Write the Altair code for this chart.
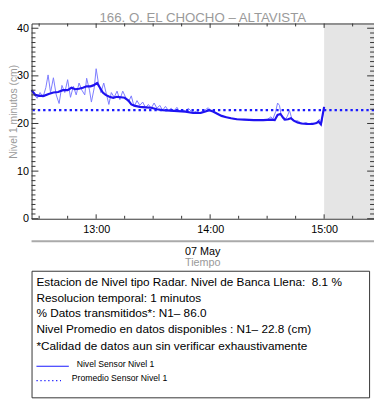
import altair as alt
import pandas as pd

FONT = "Liberation Sans"

TITLE = "166. Q. EL CHOCHO – ALTAVISTA"
Y_TITLE = "Nivel 1 minutos (cm)"
DATE_LABEL = "07 May"
X_TITLE = "Tiempo"
INFO_LINES = [
    "Estacion de Nivel tipo Radar. Nivel de Banca Llena:\u00a0 8.1 %",
    "Resolucion temporal: 1 minutos",
    "% Datos transmitidos*: N1– 86.0",
    "Nivel Promedio en datos disponibles : N1– 22.8 (cm)",
    "*Calidad de datos aun sin verificar exhaustivamente",
]
LEGEND_LABELS = ["Nivel Sensor Nivel 1", "Promedio Sensor Nivel 1"]

DAY = "2024-05-07"

# raw 1-minute level (minutes after 12:00, cm)
raw_min = [26, 27.5, 29, 30.5, 32, 33.5, 34.7, 36, 37.5, 39,
           40.5, 42, 43.5, 45, 46.5, 48, 49.5, 51, 52.5, 54,
           55, 56.5, 57.5, 59, 60, 61.2, 62.5, 64, 65.5, 66.7,
           68, 69.5, 71, 72.5, 74, 75.5, 77, 78.5, 80, 81.5,
           83, 84.5, 86, 87.5, 89, 90.5, 92, 93.5, 95, 96.5,
           98, 99.5, 101, 102.5, 104, 105.5, 107, 108.5, 110, 111.5,
           113, 114.5, 116, 117.5, 119, 120.5, 122, 124, 126, 128,
           130, 132, 135, 138, 141, 144, 147, 150, 152, 153,
           154.5, 155.5, 156.5, 157.5, 159, 160.5, 161.8, 163, 164.5, 166,
           167.5, 169, 170.5, 172, 173.5, 175, 176.5, 177.5, 178.5, 180]
raw_val = [27.0, 26.0, 25.3, 26.5, 25.5, 27.5, 30.2, 26.5, 29.6, 26.0,
           24.2, 28.0, 26.5, 29.2, 25.5, 27.8, 26.0, 28.5, 27.0, 26.0,
           29.5, 27.0, 24.5, 27.5, 31.5, 28.5, 26.5, 28.5, 26.0, 24.0,
           26.5, 25.5, 26.8, 25.0, 26.8, 25.5, 24.5, 25.8, 23.5, 24.8,
           23.8, 24.5, 23.3, 24.0, 23.2, 24.3, 23.2, 23.8, 22.8, 23.6,
           22.7, 23.2, 22.6, 23.4, 22.5, 22.9, 22.5, 23.2, 22.6, 22.4,
           22.6, 22.3, 22.5, 22.9, 23.3, 22.7, 22.4, 22.0, 21.6, 21.4,
           21.2, 21.0, 20.9, 20.8, 20.8, 20.7, 20.7, 20.8, 21.4, 20.9,
           22.5, 24.3, 23.8, 21.5, 20.6, 21.4, 22.7, 21.0, 20.4, 20.6,
           20.2, 20.0, 20.2, 19.9, 20.1, 20.0, 20.3, 20.9, 19.7, 23.5]

# smoothed level (thick line)
sm_min = [26, 28, 30, 32.5, 35, 37.5, 40, 42.5, 45, 47,
          49, 51, 53, 55, 57, 58.5, 60.5, 62, 63.5, 65,
          67, 69, 71, 73, 75, 77, 78.5, 80.5, 83, 86,
          89, 92, 95, 99, 103, 107, 111, 115, 117.5, 119.5,
          121.5, 123.5, 126, 128.5, 131, 134, 138, 143, 148, 152,
          154, 155.5, 157, 158.5, 159.5, 161, 162.5, 164, 166, 168,
          171, 174, 176, 177, 178.3, 180]
sm_val = [27.0, 26.0, 25.8, 25.8, 26.2, 26.5, 26.6, 27.0, 27.0, 27.5,
          27.2, 27.3, 27.5, 27.8, 27.8, 28.0, 28.5, 27.5, 26.5, 26.0,
          25.6, 25.4, 25.6, 25.5, 25.4, 24.8, 24.0, 23.7, 23.5, 23.4,
          23.3, 23.0, 22.8, 22.7, 22.6, 22.5, 22.2, 22.2, 22.5, 22.8,
          22.5, 22.1, 21.6, 21.3, 21.1, 20.9, 20.8, 20.7, 20.7, 20.8,
          20.7, 21.8, 22.0, 21.2, 20.8, 20.9, 21.1, 20.6, 20.2, 20.0,
          19.9, 19.9, 20.1, 20.4, 19.8, 23.5]

mean_level = [22.8]

x_major = ["13:00:00", "14:00:00", "15:00:00"]
x_minor = ["12:30:00", "12:45:00", "13:15:00", "13:30:00", "13:45:00",
           "14:15:00", "14:30:00", "14:45:00", "15:15:00"]
x_domain = ["12:26:00", "15:26:15"]
band_span = ["15:00:00", "15:26:15"]
y_major = [0, 10, 20, 30, 40]
y_minor = [v for v in range(1, 40) if v % 10 != 0]
y_domain = [0, 41]


def dt(clock):
    h, m, s = [int(p) for p in clock.split(":")]
    return alt.DateTime(year=2024, month=5, date=7, hours=h, minutes=m, seconds=s)


def ts(clock):
    return pd.Timestamp(f"{DAY} {clock}")


base = pd.Timestamp(f"{DAY} 12:00:00")
raw_df = pd.DataFrame({"t": base + pd.to_timedelta(raw_min, unit="m"), "v": raw_val})
sm_df = pd.DataFrame({"t": base + pd.to_timedelta(sm_min, unit="m"), "v": sm_val})
mean_df = pd.DataFrame({"v": mean_level})
band_df = pd.DataFrame({"a": [ts(band_span[0])], "b": [ts(band_span[1])]})
xmaj_df = pd.DataFrame({"t": [ts(c) for c in x_major]})
xmin_df = pd.DataFrame({"t": [ts(c) for c in x_minor]})
ymaj_df = pd.DataFrame({"v": y_major})
ymin_df = pd.DataFrame({"v": y_minor})
one = pd.DataFrame({"k": [0]})

W, H = 349, 199
TICK = "#333333"
GREY = "#9a9a9a"

xs = alt.Scale(domain=[dt(c) for c in x_domain], nice=False)
ys = alt.Scale(domain=y_domain, nice=False, zero=False)
xax = alt.Axis(values=[dt(c) for c in x_major], format="%H:%M", title=None,
               ticks=False, tickSize=0, domain=False, grid=False,
               labelFont=FONT, labelFontSize=11, labelColor="#000000",
               labelPadding=11, labelBaseline="middle", labelFlush=False)
yax = alt.Axis(values=y_major, title=None, ticks=False, tickSize=0,
               domain=False, grid=False, labelFont=FONT, labelFontSize=11,
               labelColor="#000000", labelPadding=3, labelFlush=False)


def X(field):
    return alt.X(field, scale=xs, axis=xax)


def Y(field):
    return alt.Y(field, scale=ys, axis=yax)


band = alt.Chart(band_df).mark_rect(color="#e5e5e5").encode(
    x=X("a:T"), x2="b:T", y=alt.value(0), y2=alt.value(H))

raw_line = alt.Chart(raw_df).mark_line(color="#7b7bff", strokeWidth=1).encode(
    x=X("t:T"), y=Y("v:Q"))
sm_line = alt.Chart(sm_df).mark_line(color="#1f12f0", strokeWidth=2.2).encode(
    x=X("t:T"), y=Y("v:Q"))
mean_line = alt.Chart(mean_df).mark_rule(color="#1a1aff", strokeWidth=2.4,
                                         strokeDash=[2.4, 3]).encode(y=Y("v:Q"))

ticks = []
for df, ln in ((xmaj_df, 4.5), (xmin_df, 3)):
    ticks.append(alt.Chart(df).mark_rule(color=TICK, strokeWidth=1).encode(
        x=X("t:T"), y=alt.value(H), y2=alt.value(H - ln)))
    ticks.append(alt.Chart(df).mark_rule(color=TICK, strokeWidth=1).encode(
        x=X("t:T"), y=alt.value(0), y2=alt.value(ln)))
for df, ln in ((ymaj_df, 7), (ymin_df, 4)):
    ticks.append(alt.Chart(df).mark_rule(color=TICK, strokeWidth=1).encode(
        y=Y("v:Q"), x=alt.value(0), x2=alt.value(ln)))
    ticks.append(alt.Chart(df).mark_rule(color=TICK, strokeWidth=1).encode(
        y=Y("v:Q"), x=alt.value(W), x2=alt.value(W - ln)))

frame = alt.Chart(one).mark_rect(fillOpacity=0, stroke=TICK, strokeWidth=1).encode(
    x=alt.value(0.5), x2=alt.value(W + 0.5), y=alt.value(0.5), y2=alt.value(H + 0.5))


def text(s, x, y, size, color, align="left", angle=0, baseline="middle"):
    return alt.Chart(pd.DataFrame({"s": [s]})).mark_text(
        align=align, baseline=baseline, font=FONT, fontSize=size,
        color=color, angle=angle).encode(text="s:N", x=alt.value(x), y=alt.value(y))


title = text(TITLE, 174.5, -1.6, 13.5, GREY, align="center", baseline="alphabetic")
ytitle = text(Y_TITLE, -17.5, 90, 10.5, GREY, align="center", angle=270)
sep = alt.Chart(one).mark_rule(color="#aaaaaa", strokeWidth=2).encode(
    x=alt.value(0), x2=alt.value(W), y=alt.value(222))
date_lbl = text(DATE_LABEL, 174.5, 233, 11, "#000000", align="center")
x_title = text(X_TITLE, 174.5, 244, 11, GREY, align="center")

box = alt.Chart(one).mark_rect(fill="#ffffff", stroke=TICK, strokeWidth=1).encode(
    x=alt.value(0.5), x2=alt.value(344.5), y=alt.value(252.5), y2=alt.value(381.5))
info_y = [264, 279.7, 295, 311.5, 328.5]
info = [text(s, 5, yy, 12, "#000000") for s, yy in zip(INFO_LINES, info_y)]
leg_solid = alt.Chart(one).mark_rule(color="#1a1aff", strokeWidth=1.2).encode(
    x=alt.value(5), x2=alt.value(38), y=alt.value(349.3))
leg_dot = alt.Chart(one).mark_rule(color="#1a1aff", strokeWidth=1.2,
                                   strokeDash=[1.3, 2.7]).encode(
    x=alt.value(5), x2=alt.value(30), y=alt.value(364))
leg_t1 = text(LEGEND_LABELS[0], 46, 346.7, 8.8, "#000000")
leg_t2 = text(LEGEND_LABELS[1], 41, 361.7, 8.8, "#000000")

chart = alt.layer(
    band, raw_line, sm_line, mean_line, *ticks, frame,
    title, ytitle, sep, date_lbl, x_title,
    box, *info, leg_solid, leg_dot, leg_t1, leg_t2,
).properties(
    width=W, height=H, autosize="none",
    padding={"left": 24, "top": 12, "right": 0, "bottom": 184},
).configure_view(strokeWidth=0)

chart.save("out.html", embed_options={"renderer": "svg", "actions": False})
